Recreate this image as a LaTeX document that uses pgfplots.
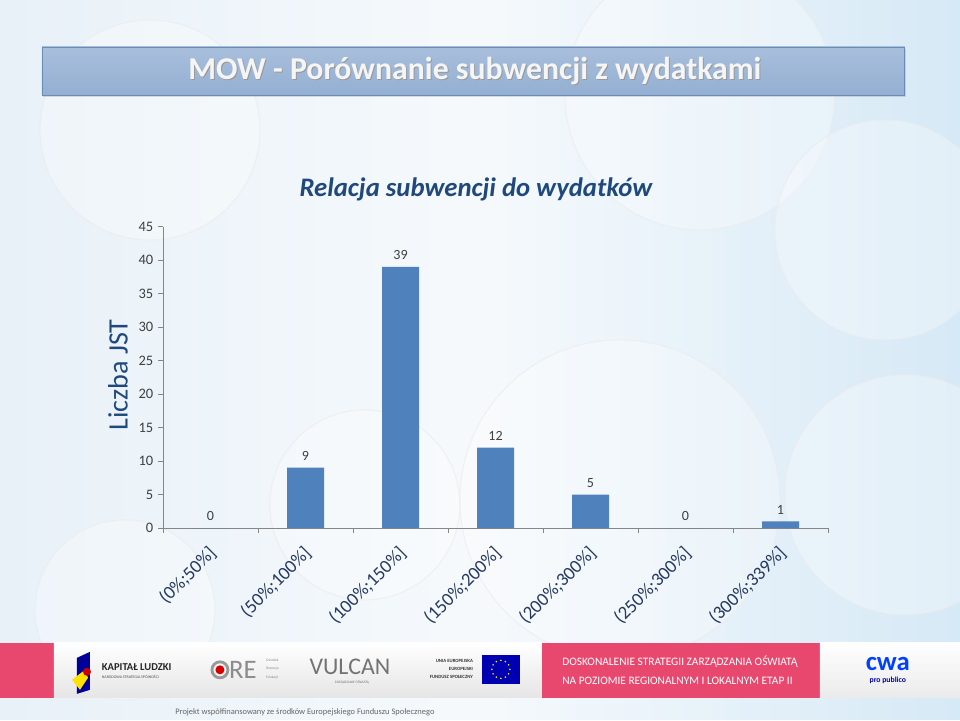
\documentclass[border=0pt]{standalone}
\usepackage{fontspec}
\setmainfont{Carlito}
\usepackage{pgfplots}
\pgfplotsset{compat=1.18}
\usetikzlibrary{shadows,calc}

\definecolor{barblue}{RGB}{79,129,189}
\definecolor{titleblue}{RGB}{31,73,125}
\definecolor{catblue}{RGB}{36,56,96}
\definecolor{axisgray}{RGB}{134,134,134}
\definecolor{ticktext}{RGB}{64,64,64}
\definecolor{bgleft}{RGB}{232,241,248}
\definecolor{bgright}{RGB}{214,233,246}
\definecolor{headtop}{RGB}{168,191,220}
\definecolor{headbot}{RGB}{148,175,210}
\definecolor{headedge}{RGB}{108,140,184}
\definecolor{pinkband}{RGB}{233,72,110}

\begin{document}
\begin{tikzpicture}
\useasboundingbox (0,0) rectangle (24cm,18cm);

% background and faint circles, coordinates in pixels (y downwards)
\begin{scope}[x=0.025cm, y=-0.025cm, shift={(0,18cm)}]
  \shade[left color=bgleft, right color=bgright, middle color=white!60!bgleft] (0,0) rectangle (960,720);
  \begin{scope}[fill=white, draw=black!8, fill opacity=0.3, draw opacity=0.6, line width=0.8pt]
    \filldraw (150,130) circle (110);
    \filldraw (700,95) circle (135);
    \filldraw (885,230) circle (110);
    \filldraw (365,505) circle (95);
    \filldraw (125,610) circle (90);
    \filldraw (620,500) circle (160);
    \filldraw (905,495) circle (120);
  \end{scope}

  % header box
  \shade[top color=headtop, bottom color=headbot, draw=headedge, line width=0.6pt,
         drop shadow={opacity=0.25, shadow xshift=1pt, shadow yshift=-1.5pt}]
    (42,47) rectangle (905,95);
  \node[text=black!40, font=\fontsize{22.6}{27}\selectfont\bfseries] at (476,72.5) {MOW - Porównanie subwencji z wydatkami};
  \node[text=white!96!black, font=\fontsize{22.6}{27}\selectfont\bfseries] at (475,71) {MOW - Porównanie subwencji z wydatkami};

  % chart title
  \node[text=titleblue, font=\fontsize{19}{23}\selectfont\bfseries\itshape] at (476,189) {Relacja subwencji do wydatków};

  % footer
  \fill[pinkband] (0,643) rectangle (54,698);
  \shade[top color=white, bottom color=black!10] (54,643) rectangle (542,698);
  \fill[pinkband] (542,643) rectangle (820,698);
  \shade[top color=white, bottom color=black!8] (820,643) rectangle (960,698);
  \node[text=white, align=left, font=\fontsize{8.1}{13}\selectfont] at (680,670.5)
    {DOSKONALENIE STRATEGII ZARZĄDZANIA OŚWIATĄ\\NA POZIOMIE REGIONALNYM I LOKALNYM ETAP II};
  % logos (approximations)
  \fill[blue!60!black] (77,658) -- (90,652) -- (90,690) -- (77,694) -- cycle;
  \fill[yellow!85!orange] (72,680) -- (85,670) -- (88,678) -- (80,690) -- cycle;
  \fill[red!80!black] (87,672) circle (4);
  \node[anchor=west, text=black!85, font=\fontsize{7.5}{9}\selectfont\bfseries] at (97,667) {KAPITAŁ LUDZKI};
  \node[anchor=west, text=black!70, font=\fontsize{2.8}{3}\selectfont] at (97,677.5) {NARODOWA STRATEGIA SPÓJNOŚCI};
  \draw[black!40, line width=2pt] (220,670) circle (8);
  \fill[red!85!black] (220,670) circle (4.5);
  \node[anchor=west, inner sep=0pt, text=black!45, font=\fontsize{19}{20}\selectfont] at (229,670.5) {RE};
  \node[anchor=west, inner sep=0pt, text=black!45, align=left, font=\fontsize{2.6}{6}\selectfont] at (266,669) {Ośrodek\\Rozwoju\\Edukacji};
  \node[text=black!55, font=\fontsize{17}{18}\selectfont] at (350,667) {VULCAN};
  \node[text=black!55, font=\fontsize{2.5}{3}\selectfont] at (352,682) {ZARZĄDZANIE OŚWIATĄ};
  \node[anchor=east, align=right, text=black!80, font=\fontsize{3.4}{5.5}\selectfont\bfseries] at (478,669)
    {UNIA EUROPEJSKA\\EUROPEJSKI\\FUNDUSZ SPOŁECZNY};
  \fill[blue!70!black] (482,655) rectangle (520,684);
  \foreach \a in {0,30,...,330} \fill[yellow] ($(501,669.5)+(\a:9)$) circle (0.9);
  \node[text=blue!75!cyan, font=\fontsize{19}{20}\selectfont\bfseries] at (888,664) {cwa};
  \node[text=blue!70!black, font=\fontsize{5.5}{6}\selectfont\bfseries] at (888,681) {pro publico};
  \node[text=black!60, font=\fontsize{6}{7}\selectfont] at (305,712) {Projekt współfinansowany ze środków Europejskiego Funduszu Społecznego};
\end{scope}

\begin{axis}[
  at={(4.075cm,4.8cm)}, anchor=south west, scale only axis,
  width=16.625cm, height=7.533cm,
  ybar, bar width=0.925cm,
  xmin=-0.5, xmax=6.5, ymin=0, ymax=45,
  ytick distance=5,
  axis x line*=bottom, axis y line*=left,
  axis line style={draw=axisgray, line width=0.6pt},
  tick align=outside,
  major tick length=0.12cm, minor tick length=0.12cm,
  ytick style={draw=axisgray, line width=0.6pt},
  xtick={0,...,6},
  xticklabels={{(0\%;50\%]},{(50\%;100\%]},{(100\%;150\%]},{(150\%;200\%]},{(200\%;300\%]},{(250\%;300\%]},{(300\%;339\%]}},
  major x tick style={draw=none},
  minor xtick={-0.5,0.5,...,6.5},
  minor x tick style={draw=axisgray, line width=0.6pt},
  x tick label style={xshift=0.15cm, yshift=-0.35cm, rotate=45, anchor=east, text=catblue, font=\fontsize{13.3}{15}\selectfont},
  y tick label style={text=ticktext, font=\fontsize{10.3}{12}\selectfont},
  /pgf/number format/assume math mode=true,
  ylabel={Liczba JST},
  ylabel style={at={(axis description cs:-0.0677,0.508)}, anchor=center, rotate=0,
    text=titleblue, font=\fontsize{20}{22}\selectfont},
  nodes near coords,
  every node near coord/.append style={text=ticktext, font=\fontsize{10}{11}\selectfont, yshift=0.05cm},
  clip=false,
]
\addplot[fill=barblue, draw=none] coordinates {(0,0) (1,9) (2,39) (3,12) (4,5) (5,0) (6,1)};
\end{axis}
\end{tikzpicture}
\end{document}
